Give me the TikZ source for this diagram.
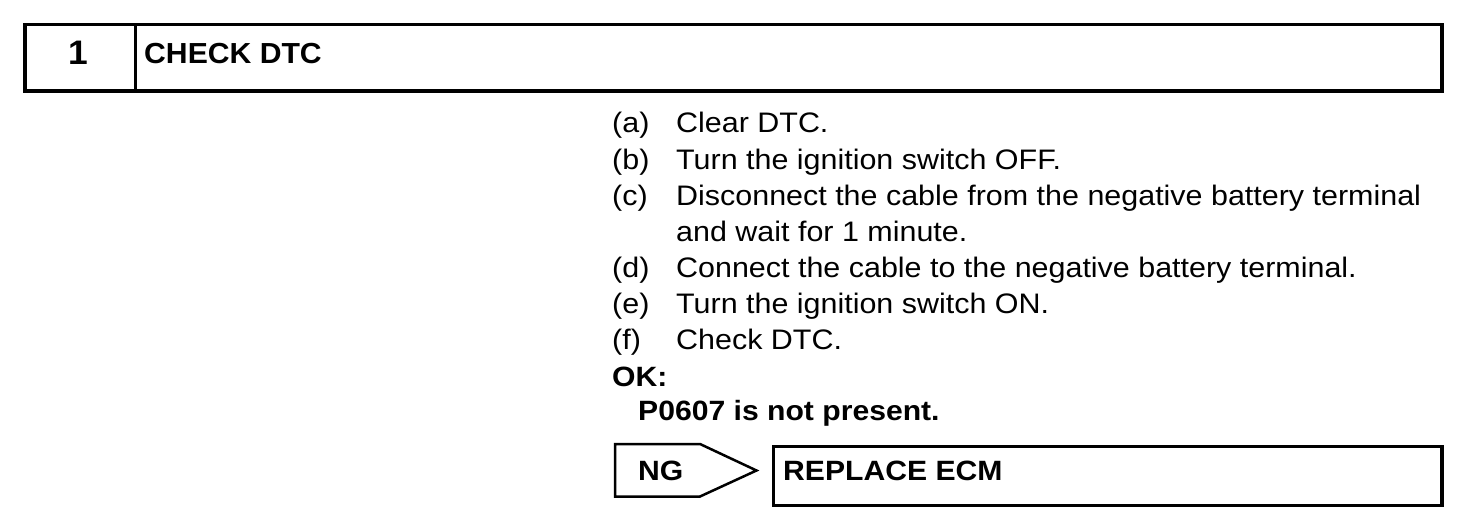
\documentclass[tikz,border=0pt]{standalone}
\usepackage{fontspec}
\setmainfont[FakeStretch=1.08]{Liberation Sans}
\newfontfamily\headfont[FakeStretch=1.04]{Liberation Sans}
\usetikzlibrary{positioning}

\begin{document}
\begin{tikzpicture}[x=1pt, y=-1pt,
    frame/.style={draw, line width=3.5pt, inner sep=0pt, anchor=north west},
    bodytext/.style={anchor=base west, inner sep=0pt, font=\fontsize{28.2}{36}\selectfont},
    boldtext/.style={bodytext, font=\fontsize{27.9}{36}\selectfont\bfseries}]
  \useasboundingbox (0,0) rectangle (1472,524);

  % heading bar
  \node[frame, minimum width=110.5pt, minimum height=66.5pt] (numbox) at (23,23) {};
  \node[frame, minimum width=1306.5pt, minimum height=66.5pt] (titlebox) at (133.5,23) {};
  \node[anchor=base, inner sep=0pt, font=\headfont\fontsize{34}{40}\selectfont\bfseries] (num) at (78,65) {1};
  \node[anchor=base west, inner sep=0pt, font=\headfont\fontsize{29}{36}\selectfont\bfseries] (title) at (144,64) {CHECK DTC};

  % steps
  \node[bodytext] (la) at (612,133) {(a)};
  \node[bodytext] (ta) at (676,133) {Clear DTC.};
  \node[bodytext] (lb) at (612,169) {(b)};
  \node[bodytext] (tb) at (676,169) {Turn the ignition switch OFF.};
  \node[bodytext] (lc) at (612,205) {(c)};
  \node[bodytext] (tc) at (676,205) {Disconnect the cable from the negative battery terminal};
  \node[bodytext] (tc2) at (676,241) {and wait for 1 minute.};
  \node[bodytext] (ld) at (612,277) {(d)};
  \node[bodytext] (td) at (676,277) {Connect the cable to the negative battery terminal.};
  \node[bodytext] (le) at (612,313) {(e)};
  \node[bodytext] (te) at (676,313) {Turn the ignition switch ON.};
  \node[bodytext] (lf) at (612,349) {(f)};
  \node[bodytext] (tf) at (676,349) {Check DTC.};
  \node[boldtext] (ok) at (612,386) {OK:};
  \node[boldtext] (okval) at (638,420) {P0607 is not present.};

  % NG branch
  \draw[line width=2.5pt, line join=miter] (615,444) -- (700,444) -- (756.5,470.5) -- (700,496.5) -- (615,496.5) -- cycle;
  \node[boldtext] (ng) at (638,480) {NG};
  \node[frame, minimum width=668.5pt, minimum height=59pt] (actbox) at (771.5,444.5) {};
  \node[boldtext] (act) at (783,480) {REPLACE ECM};
\end{tikzpicture}
\end{document}
